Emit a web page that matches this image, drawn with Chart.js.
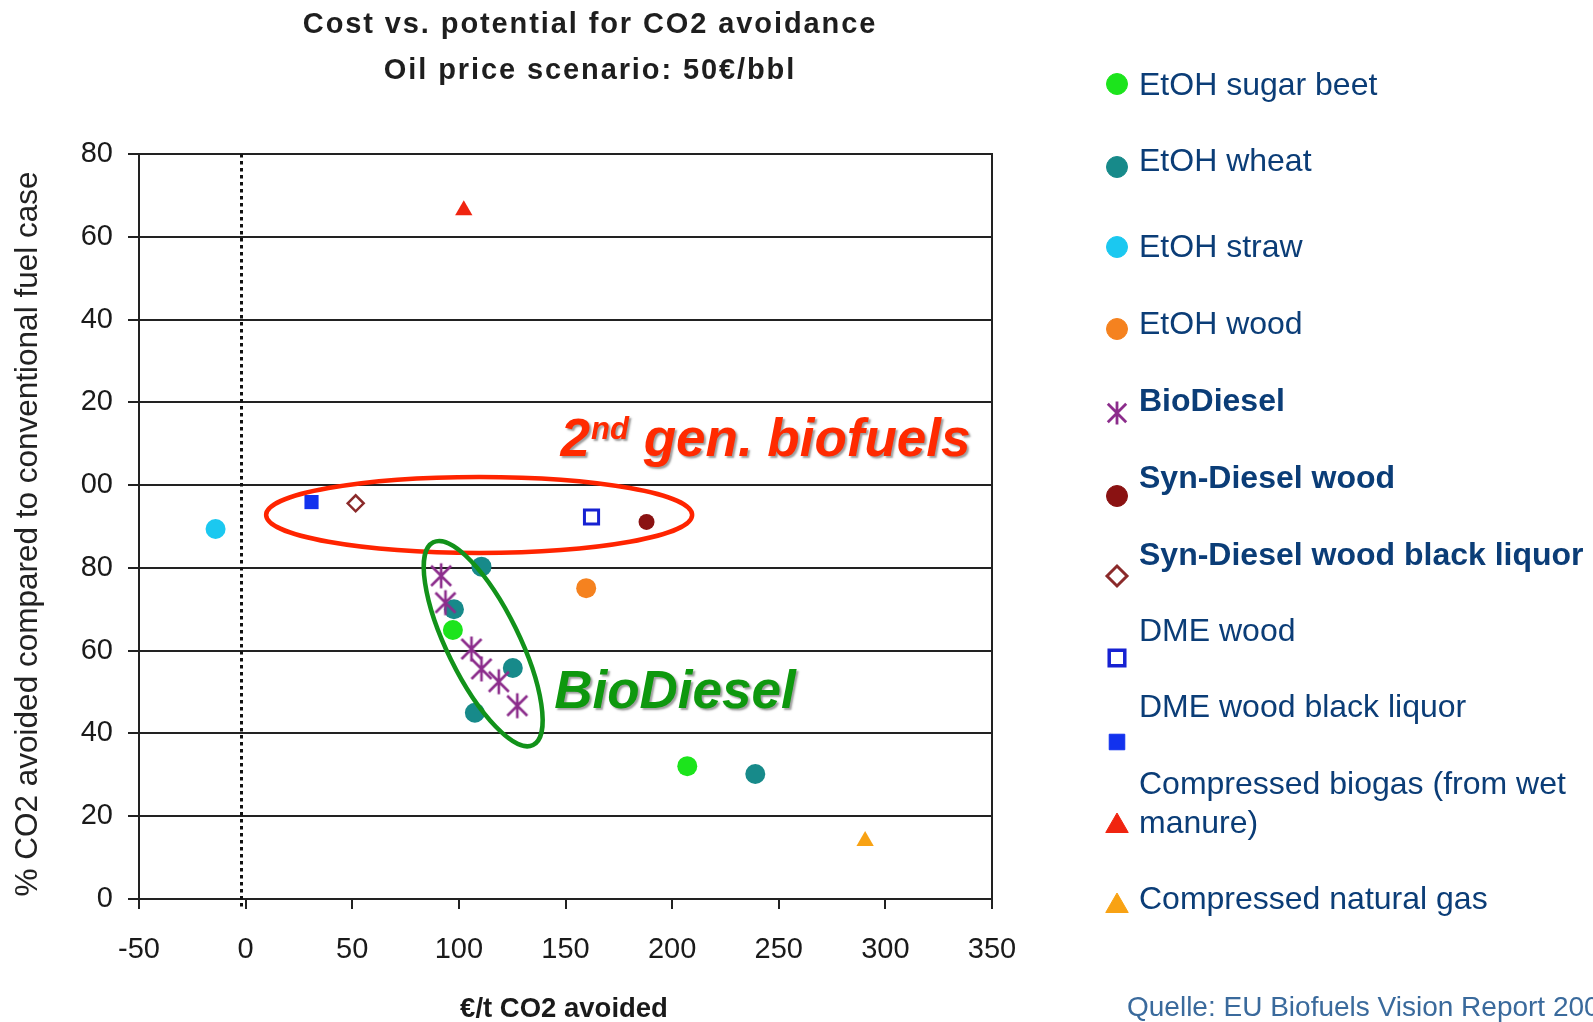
<!DOCTYPE html>
<html>
<head>
<meta charset="utf-8">
<script src="https://cdn.jsdelivr.net/npm/chart.js@4.4.1/dist/chart.umd.min.js"></script>
<style>
  html, body { margin: 0; padding: 0; background: #ffffff; overflow: hidden; }
  canvas { display: block; }
</style>
</head>
<body>
<canvas id="chart" width="1593" height="1022"></canvas>
<script>
// ---------------- data ----------------
const seriesNames = [
  'EtOH sugar beet', 'EtOH wheat', 'EtOH straw', 'EtOH wood', 'BioDiesel',
  'Syn-Diesel wood', 'Syn-Diesel wood black liquor', 'DME wood',
  'DME wood black liquor', 'Compressed biogas (from wet manure)', 'Compressed natural gas'
];

// cost (€/t CO2 avoided) and potential (% CO2 avoided) per fuel path
const sugarBeetX = [97.2, 207.1];
const sugarBeetY = [65.0, 32.1];
const wheatX = [110.6, 97.7, 125.3, 107.5, 239.0];
const wheatY = [80.3, 70.0, 55.8, 45.0, 30.2];
const strawX = [-14.1];
const strawY = [89.4];
const woodX = [159.7];
const woodY = [75.1];
const bioDieselX = [91.7, 93.7, 105.9, 110.6, 118.7, 127.4];
const bioDieselY = [78.1, 71.6, 60.4, 55.6, 52.5, 46.7];
const synDieselWoodX = [188.0];
const synDieselWoodY = [91.1];
const synDieselBlackLiquorX = [51.6];
const synDieselBlackLiquorY = [95.6];
const dmeWoodX = [162.2];
const dmeWoodY = [92.3];
const dmeBlackLiquorX = [30.9];
const dmeBlackLiquorY = [95.9];
const biogasX = [102.3];
const biogasY = [166.4];
const cngX = [290.5];
const cngY = [14.0];

const xTickLabels = ['-50', '0', '50', '100', '150', '200', '250', '300', '350'];
const yTickLabels = ['0', '20', '40', '60', '80', '00', '20', '40', '60', '80'];

// dotted vertical guide near zero cost
const dottedLineX = -2;

// ---------------- helpers ----------------
const FONT = '"Liberation Sans", Arial, Helvetica, sans-serif';
const pts = (xs, ys) => xs.map((x, i) => ({ x: x, y: ys[i] }));

// asterisk marker: vertical bar plus an X
function makeStar(size, color, lw) {
  const c = document.createElement('canvas');
  c.width = size; c.height = size;
  const g = c.getContext('2d');
  g.strokeStyle = color; g.lineWidth = lw; g.lineCap = 'butt';
  const m = size / 2, r = size / 2 - 1.5, d = r * 0.8;
  g.beginPath();
  g.moveTo(m, m - r); g.lineTo(m, m + r);
  g.moveTo(m - d, m - d); g.lineTo(m + d, m + d);
  g.moveTo(m + d, m - d); g.lineTo(m - d, m + d);
  g.stroke();
  return c;
}
const starPlot = makeStar(28, '#8C2D8C', 2.6);
const starLegend = makeStar(26, '#8C2D8C', 2.8);

function ds(label, data, style) {
  return Object.assign({
    label: label, data: data, showLine: false, borderWidth: 0, order: 1
  }, style, { hoverRadius: style.pointRadius });
}

const datasets = [
  ds(seriesNames[0], pts(sugarBeetX, sugarBeetY), { pointStyle: 'circle', pointRadius: 10, backgroundColor: '#1CE41C', borderColor: '#1CE41C' }),
  ds(seriesNames[1], pts(wheatX, wheatY), { pointStyle: 'circle', pointRadius: 10, backgroundColor: '#178A8A', borderColor: '#178A8A' }),
  ds(seriesNames[2], pts(strawX, strawY), { pointStyle: 'circle', pointRadius: 10, backgroundColor: '#1BC8F0', borderColor: '#1BC8F0' }),
  ds(seriesNames[3], pts(woodX, woodY), { pointStyle: 'circle', pointRadius: 10, backgroundColor: '#F5821F', borderColor: '#F5821F' }),
  ds(seriesNames[4], pts(bioDieselX, bioDieselY), { pointStyle: starPlot, pointRadius: 13, backgroundColor: '#8C2D8C', borderColor: '#8C2D8C', order: 0 }),
  ds(seriesNames[5], pts(synDieselWoodX, synDieselWoodY), { pointStyle: 'circle', pointRadius: 8, backgroundColor: '#8A1212', borderColor: '#8A1212' }),
  ds(seriesNames[6], pts(synDieselBlackLiquorX, synDieselBlackLiquorY), { pointStyle: 'rectRot', pointRadius: 8, backgroundColor: '#ffffff', borderColor: '#8B2A2A', borderWidth: 2.5 }),
  ds(seriesNames[7], pts(dmeWoodX, dmeWoodY), { pointStyle: 'rect', pointRadius: 10, backgroundColor: '#ffffff', borderColor: '#1722D2', borderWidth: 3 }),
  ds(seriesNames[8], pts(dmeBlackLiquorX, dmeBlackLiquorY), { pointStyle: 'rect', pointRadius: 10, backgroundColor: '#1232EE', borderColor: '#1232EE' }),
  ds(seriesNames[9], pts(biogasX, biogasY), { pointStyle: 'triangle', pointRadius: 10, backgroundColor: '#F02410', borderColor: '#F02410' }),
  ds(seriesNames[10], pts(cngX, cngY), { pointStyle: 'triangle', pointRadius: 10, backgroundColor: '#F8A214', borderColor: '#F8A214' })
];

// ---------------- legend layout (right column) ----------------
const legendLayout = [
  { lines: ['EtOH sugar beet'], bold: false, textY: [86], markY: 84, r: 10.5 },
  { lines: ['EtOH wheat'], bold: false, textY: [162], markY: 167, r: 10.5 },
  { lines: ['EtOH straw'], bold: false, textY: [248], markY: 247, r: 10.5 },
  { lines: ['EtOH wood'], bold: false, textY: [325], markY: 329, r: 10.5 },
  { lines: ['BioDiesel'], bold: true, textY: [402], markY: 413, r: 11, img: starLegend },
  { lines: ['Syn-Diesel wood'], bold: true, textY: [479], markY: 496, r: 10.5 },
  { lines: ['Syn-Diesel wood black liquor'], bold: true, textY: [556], markY: 576, r: 10 },
  { lines: ['DME wood'], bold: false, textY: [632], markY: 658, r: 11 },
  { lines: ['DME wood black liquor'], bold: false, textY: [708], markY: 742, r: 11 },
  { lines: ['Compressed biogas (from wet', 'manure)'], bold: false, textY: [785, 824], markY: 826, r: 13 },
  { lines: ['Compressed natural gas'], bold: false, textY: [900], markY: 906, r: 13 }
];

// ---------------- annotations ----------------
const ellipses = [
  { cx: 109.5, cy: 92.8, rx: 213, ry: 38, angle: 0, color: '#FF2400' },
  { cx: 111.4, cy: 61.7, rx: 113, ry: 36, angle: 63.8, color: '#12921A' }
];

const decorPlugin = {
  id: 'decor',
  beforeDatasetsDraw(chart) {
    const { ctx, chartArea: a, scales: { x } } = chart;
    ctx.save();
    // dotted guide line
    ctx.strokeStyle = '#111'; ctx.lineWidth = 3; ctx.setLineDash([3.5, 3.5]);
    const x0 = Math.round(x.getPixelForValue(dottedLineX)) + 0.5;
    ctx.beginPath(); ctx.moveTo(x0, a.top); ctx.lineTo(x0, a.bottom + 10); ctx.stroke();
    ctx.setLineDash([]);
    // right frame edge
    ctx.strokeStyle = '#222'; ctx.lineWidth = 2;
    ctx.beginPath(); ctx.moveTo(a.right, a.top - 1); ctx.lineTo(a.right, a.bottom); ctx.stroke();
    ctx.restore();
  },
  afterDatasetsDraw(chart) {
    const { ctx, scales: { x, y } } = chart;
    ctx.save();
    // group outlines
    ellipses.forEach(e => {
      ctx.strokeStyle = e.color; ctx.lineWidth = 4.5;
      ctx.beginPath();
      ctx.ellipse(x.getPixelForValue(e.cx), y.getPixelForValue(e.cy), e.rx, e.ry, e.angle * Math.PI / 180, 0, Math.PI * 2);
      ctx.stroke();
    });
    // group captions with drop shadow
    ctx.shadowColor = 'rgba(60,60,60,0.5)';
    ctx.shadowOffsetX = 2; ctx.shadowOffsetY = 2; ctx.shadowBlur = 2;
    ctx.textBaseline = 'alphabetic'; ctx.textAlign = 'left';
    // "2nd gen. biofuels"
    let tx = x.getPixelForValue(147.7), ty = y.getPixelForValue(107.1);
    ctx.fillStyle = '#FF2A00';
    ctx.font = 'italic bold 53px ' + FONT;
    ctx.fillText('2', tx, ty);
    tx += ctx.measureText('2').width + 1;
    ctx.font = 'italic bold 31px ' + FONT;
    ctx.fillText('nd', tx, ty - 17);
    tx += ctx.measureText('nd').width;
    ctx.font = 'italic bold 53px ' + FONT;
    ctx.fillText(' gen. biofuels', tx, ty);
    // "BioDiesel"
    ctx.fillStyle = '#0E980E';
    ctx.fillText('BioDiesel', x.getPixelForValue(144.7), y.getPixelForValue(46.2));
    ctx.restore();
  },
  afterDraw(chart) {
    const { ctx } = chart;
    ctx.save();
    // chart title
    ctx.fillStyle = '#1e1e1e';
    ctx.textAlign = 'center'; ctx.textBaseline = 'middle';
    ctx.font = 'bold 29px ' + FONT;
    if ('letterSpacing' in ctx) ctx.letterSpacing = '1.9px';
    ctx.fillText('Cost vs. potential for CO2 avoidance', 590, 25);
    ctx.fillText('Oil price scenario: 50€/bbl', 590, 71);
    if ('letterSpacing' in ctx) ctx.letterSpacing = '0px';
    // axis titles
    ctx.fillStyle = '#1a1a1a';
    ctx.font = 'bold 27.5px ' + FONT;
    ctx.fillText('€/t CO2 avoided', 564, 1009);
    ctx.save();
    ctx.translate(28, 534);
    ctx.rotate(-Math.PI / 2);
    ctx.font = '31.5px ' + FONT;
    ctx.fillStyle = '#222';
    ctx.fillText('% CO2 avoided compared to conventional fuel case', 0, 0);
    ctx.restore();
    // legend
    const mx = 1117, tx = 1139;
    legendLayout.forEach((item, i) => {
      const d = chart.data.datasets[i];
      ctx.save();
      if (item.img) {
        ctx.drawImage(item.img, mx - item.img.width / 2, item.markY - item.img.height / 2);
      } else {
        ctx.fillStyle = d.backgroundColor; ctx.strokeStyle = d.borderColor;
        ctx.lineWidth = d.borderWidth ? d.borderWidth + 0.5 : 0;
        Chart.helpers.drawPoint(ctx, { pointStyle: d.pointStyle, radius: item.r, rotation: 0, borderWidth: ctx.lineWidth }, mx, item.markY);
      }
      ctx.restore();
      ctx.fillStyle = '#0B3D77';
      ctx.textAlign = 'left'; ctx.textBaseline = 'middle';
      ctx.font = (item.bold ? 'bold ' : '') + '32px ' + FONT;
      item.lines.forEach((ln, k) => ctx.fillText(ln, tx, item.textY[k]));
    });
    // source line
    ctx.fillStyle = '#3A6A9C';
    ctx.font = '28px ' + FONT;
    ctx.fillText('Quelle: EU Biofuels Vision Report 2006', 1127, 1008);
    ctx.restore();
  }
};

new Chart(document.getElementById('chart'), {
  type: 'scatter',
  data: { datasets: datasets },
  options: {
    responsive: false,
    animation: false,
    events: [],
    layout: { padding: { left: 0, top: 154, right: 601, bottom: 0 } },
    plugins: { legend: { display: false }, title: { display: false }, tooltip: { enabled: false } },
    scales: {
      x: {
        type: 'linear', min: -50, max: 350,
        afterFit: s => { s.height = 123; },
        ticks: {
          stepSize: 50, color: '#1a1a1a', padding: 24,
          font: { family: FONT, size: 29 },
          callback: (v, i) => xTickLabels[i]
        },
        grid: { drawOnChartArea: false, drawTicks: true, tickLength: 10, color: '#222', lineWidth: 2 },
        border: { display: true, color: '#222', width: 2 }
      },
      y: {
        type: 'linear', min: 0, max: 180,
        afterFit: s => { s.width = 139; },
        ticks: {
          stepSize: 20, color: '#1a1a1a', padding: 15,
          font: { family: FONT, size: 29 },
          callback: (v, i) => yTickLabels[i]
        },
        grid: { color: '#222', lineWidth: 2, tickLength: 11, drawTicks: true },
        border: { display: true, color: '#222', width: 2 }
      }
    }
  },
  plugins: [decorPlugin]
});
</script>
</body>
</html>
